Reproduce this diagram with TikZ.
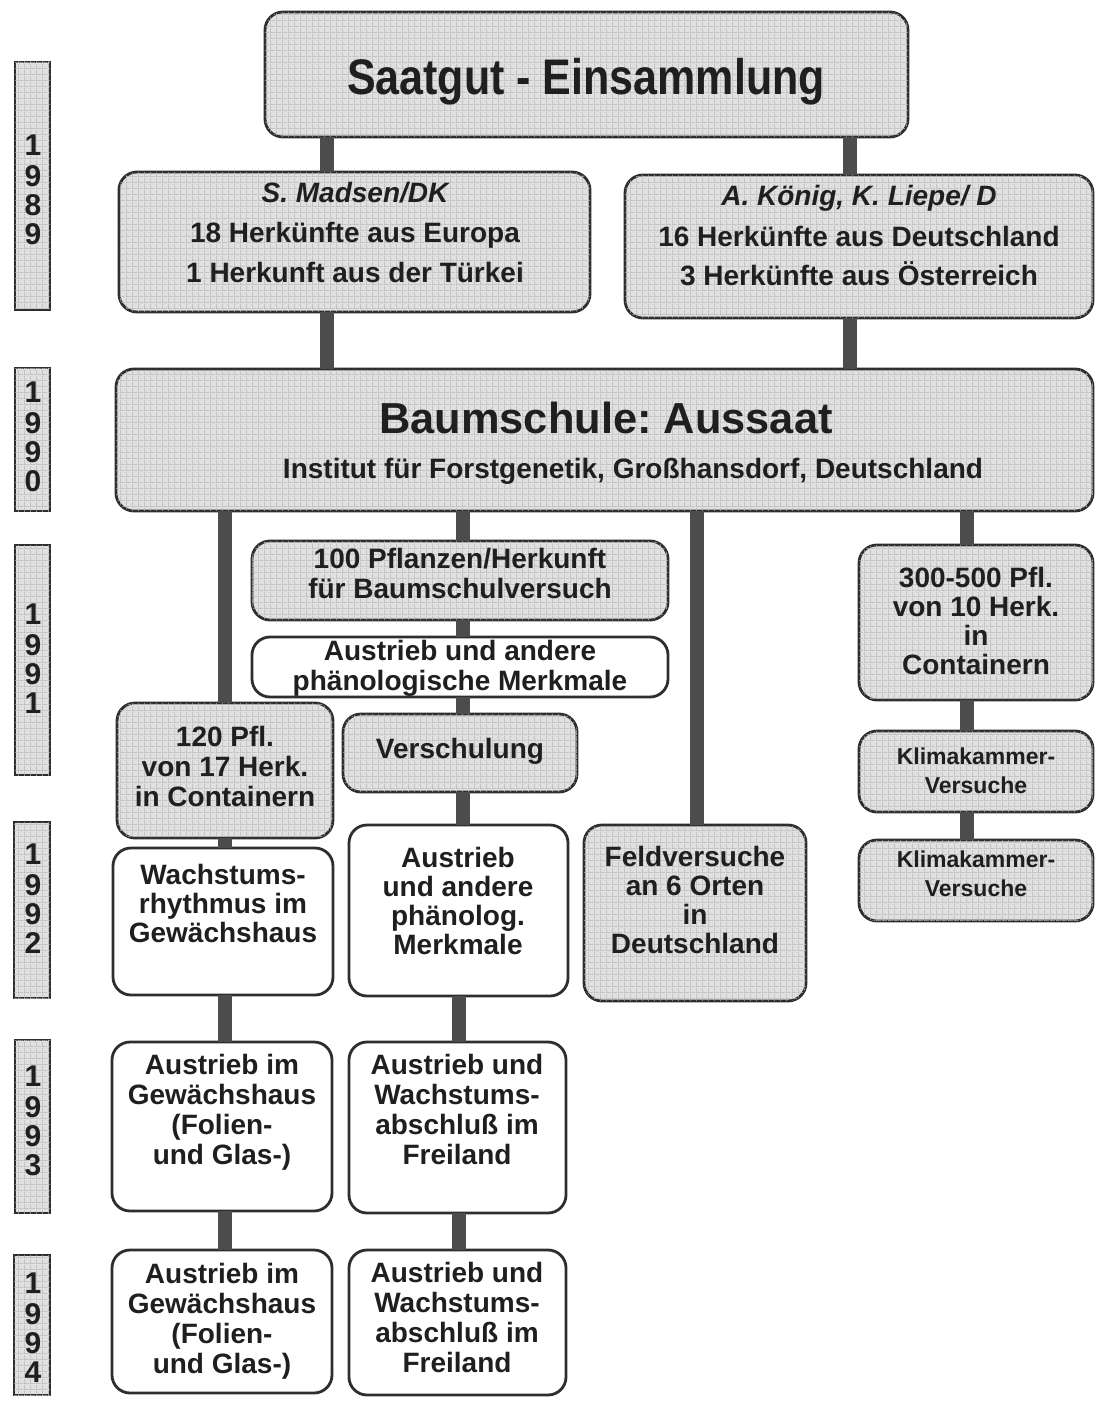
\documentclass[tikz,border=0pt]{standalone}
\usepackage{fontspec}
\setmainfont{Liberation Sans}
\newfontfamily\titlefont{Liberation Sans}[FakeStretch=0.86]
\usetikzlibrary{fit,patterns}
\pgfdeclarepatternformonly{finegrid}{\pgfpointorigin}{\pgfpoint{3pt}{3pt}}{\pgfpoint{3pt}{3pt}}{%
  \pgfsetlinewidth{0.35pt}%
  \pgfpathmoveto{\pgfpoint{0pt}{0.2pt}}\pgfpathlineto{\pgfpoint{3pt}{0.2pt}}%
  \pgfpathmoveto{\pgfpoint{0.2pt}{0pt}}\pgfpathlineto{\pgfpoint{0.2pt}{3pt}}%
  \pgfusepath{stroke}}
\begin{document}
\frenchspacing
\begin{tikzpicture}[x=0.5pt,y=-0.5pt,
  every node/.style={inner sep=0pt, outer sep=0pt},
  boxbase/.style={draw=black!82, line width=1.4pt, rounded corners=9pt, inner sep=0pt},
  shbox/.style={boxbase, fill=black!12, postaction={pattern=finegrid, pattern color=black!28}},
  whbox/.style={boxbase, fill=white},
  yearbox/.style={draw=black!82, line width=1.2pt, fill=black!12, postaction={pattern=finegrid, pattern color=black!28}, inner sep=0pt},
  conn/.style={draw=black!70, line width=7pt},
  txt/.style={align=center, text=black!88, font=\fontsize{14}{15}\selectfont\bfseries},
  txtw/.style={align=center, text=black!88, font=\fontsize{14}{20}\selectfont\bfseries},
  txtn/.style={align=center, text=black!88, font=\fontsize{14}{14.5}\selectfont\bfseries},
  txts/.style={align=center, text=black!88, font=\fontsize{11.5}{14.5}\selectfont\bfseries},
  yeartxt/.style={align=center, text=black!88, font=\fontsize{15}{14.5}\selectfont\bfseries},
  titletxt/.style={anchor=base, text=black!88, font=\titlefont\fontsize{25}{28}\selectfont\bfseries},
  bigtxt/.style={anchor=base, text=black!88, font=\fontsize{21.7}{24}\selectfont\bfseries},
  subtxt/.style={anchor=base, text=black!88, font=\fontsize{14}{15}\selectfont\bfseries}
]
\useasboundingbox (0,0) rectangle (1096,1401);
\fill[white] (0,0) rectangle (1096,1401);

% year boxes
\node[yearbox, fit={(15,62) (50,310)}] (y89) {};
\node[yearbox, fit={(15,368) (50,511)}] (y90) {};
\node[yearbox, fit={(15,545) (50,775)}] (y91) {};
\node[yearbox, fit={(14,822) (50,998)}] (y92) {};
\node[yearbox, fit={(15,1040) (50,1213)}] (y93) {};
\node[yearbox, fit={(14,1255) (50,1395)}] (y94) {};
\node[yeartxt] (y89t) at (33,194) {\strut 1\\9\\8\\9\strut};
\node[yeartxt] (y90t) at (33,441) {\strut 1\\9\\9\\0\strut};
\node[yeartxt] (y91t) at (33,663) {\strut 1\\9\\9\\1\strut};
\node[yeartxt] (y92t) at (33,903) {\strut 1\\9\\9\\2\strut};
\node[yeartxt] (y93t) at (33,1125) {\strut 1\\9\\9\\3\strut};
\node[yeartxt] (y94t) at (33,1332) {\strut 1\\9\\9\\4\strut};

% boxes
\node[shbox, fit={(265,12) (908,137)}] (saat) {};
\node[shbox, fit={(119,172) (590,312)}] (mad) {};
\node[shbox, fit={(625,175) (1093,318)}] (kon) {};
\node[shbox, fit={(116,369) (1093,511)}] (baum) {};
\node[shbox, fit={(252,541) (668,620)}] (p100) {};
\node[whbox, fit={(252,637) (668,697)}] (aus1) {};
\node[shbox, fit={(859,545) (1093,700)}] (p300) {};
\node[shbox, fit={(117,703) (333,838)}] (p120) {};
\node[shbox, fit={(343,714) (577,792)}] (vers) {};
\node[shbox, fit={(859,731) (1093,812)}] (kl1) {};
\node[shbox, fit={(859,840) (1093,921)}] (kl2) {};
\node[whbox, fit={(113,848) (333,995)}] (wach) {};
\node[whbox, fit={(349,825) (568,996)}] (aus2) {};
\node[shbox, fit={(584,825) (806,1001)}] (feld) {};
\node[whbox, fit={(112,1042) (332,1211)}] (a93) {};
\node[whbox, fit={(349,1042) (566,1213)}] (b93) {};
\node[whbox, fit={(112,1250) (332,1393)}] (a94) {};
\node[whbox, fit={(349,1250) (566,1395)}] (b94) {};

% texts
\node[titletxt] (saatt) at (586,95) {Saatgut - Einsammlung};
\node[txtw] (madt) at (355,234.5) {\strut{\itshape S. Madsen/DK}\\18 Herkünfte aus Europa\\1 Herkunft aus der Türkei\strut};
\node[txtw] (kont) at (859,238) {\strut{\itshape A. König, K. Liepe/ D}\\16 Herkünfte aus Deutschland\\3 Herkünfte aus Österreich\strut};
\node[bigtxt] (baumt) at (606,433.5) {Baumschule: Aussaat};
\node[subtxt] (baumu) at (633,478) {Institut für Forstgenetik, Großhansdorf, Deutschland};
\node[txt] (p100t) at (460,577) {\strut 100 Pflanzen/Herkunft\\für Baumschulversuch\strut};
\node[txt] (aus1t) at (460,669) {\strut Austrieb und andere\\phänologische Merkmale\strut};
\node[txtn] (p300t) at (976,625) {\strut 300-500 Pfl.\\von 10 Herk.\\in\\Containern\strut};
\node[txt] (p120t) at (225,770) {\strut 120 Pfl.\\von 17 Herk.\\in Containern\strut};
\node[txt] (verst) at (460,752) {\strut Verschulung\strut};
\node[txts] (kl1t) at (976,773) {\strut Klimakammer-\\Versuche\strut};
\node[txts] (kl2t) at (976,876.5) {\strut Klimakammer-\\Versuche\strut};
\node[txtn] (wacht) at (223,908) {\strut Wachstums-\\rhythmus im\\Gewächshaus\strut};
\node[txtn] (aus2t) at (458,905) {\strut Austrieb\\und andere\\phänolog.\\Merkmale\strut};
\node[txtn] (feldt) at (695,904) {\strut Feldversuche\\an 6 Orten\\in\\Deutschland\strut};
\node[txt] (a93t) at (222,1113.5) {\strut Austrieb im\\Gewächshaus\\(Folien-\\und Glas-)\strut};
\node[txt] (b93t) at (457,1113.5) {\strut Austrieb und\\Wachstums-\\abschluß im\\Freiland\strut};
\node[txt] (a94t) at (222,1322) {\strut Austrieb im\\Gewächshaus\\(Folien-\\und Glas-)\strut};
\node[txt] (b94t) at (457,1321.5) {\strut Austrieb und\\Wachstums-\\abschluß im\\Freiland\strut};

% connector columns
\coordinate (xa) at (327,0);
\coordinate (xb) at (850,0);
\coordinate (xc) at (225,0);
\coordinate (xd) at (463,0);
\coordinate (xe) at (697,0);
\coordinate (xf) at (967,0);
\coordinate (xg) at (459,0);

\draw[conn] (saat.south -| xa) -- (mad.north -| xa);
\draw[conn] (saat.south -| xb) -- (kon.north -| xb);
\draw[conn] (mad.south -| xa) -- (baum.north -| xa);
\draw[conn] (kon.south -| xb) -- (baum.north -| xb);
\draw[conn] (baum.south -| xc) -- (p120.north -| xc);
\draw[conn] (baum.south -| xd) -- (p100.north -| xd);
\draw[conn] (baum.south -| xe) -- (feld.north -| xe);
\draw[conn] (baum.south -| xf) -- (p300.north -| xf);
\draw[conn] (p100.south -| xd) -- (aus1.north -| xd);
\draw[conn] (aus1.south -| xd) -- (vers.north -| xd);
\draw[conn] (p120.south -| xc) -- (wach.north -| xc);
\draw[conn] (vers.south -| xd) -- (aus2.north -| xd);
\draw[conn] (p300.south -| xf) -- (kl1.north -| xf);
\draw[conn] (kl1.south -| xf) -- (kl2.north -| xf);
\draw[conn] (wach.south -| xc) -- (a93.north -| xc);
\draw[conn] (aus2.south -| xg) -- (b93.north -| xg);
\draw[conn] (a93.south -| xc) -- (a94.north -| xc);
\draw[conn] (b93.south -| xg) -- (b94.north -| xg);
\end{tikzpicture}
\end{document}
